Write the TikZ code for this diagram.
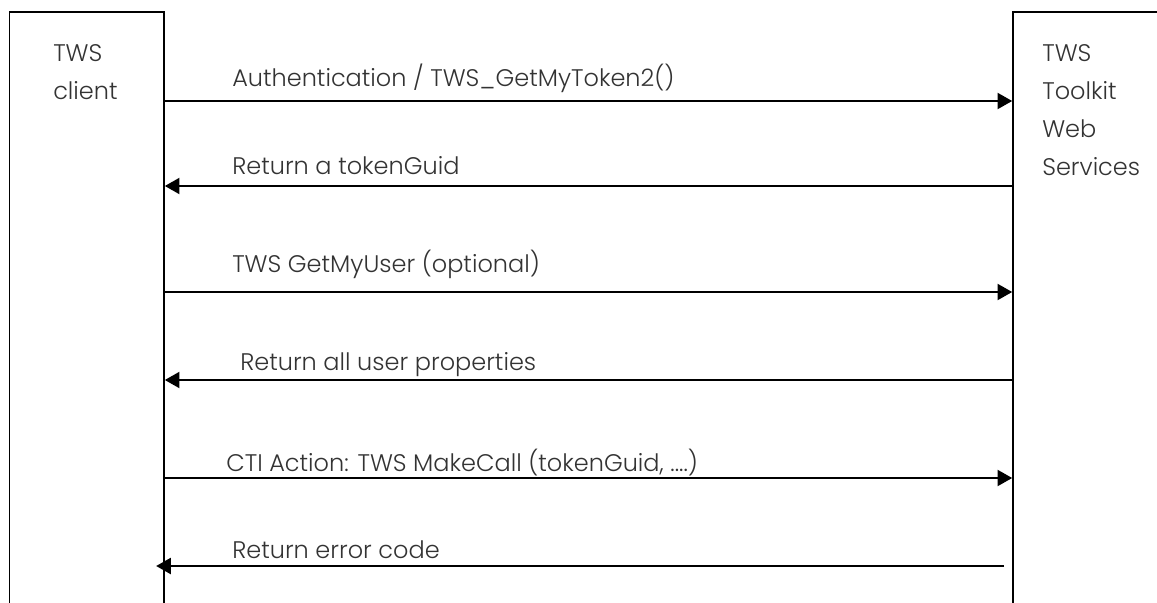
\documentclass[tikz,border=0pt]{standalone}
\usepackage{fontspec}
\setmainfont{Poppins}[UprightFont=* Light]
\usetikzlibrary{arrows.meta}
\usetikzlibrary{positioning}
\definecolor{textgray}{HTML}{333333}

\begin{document}
\begin{tikzpicture}[x=0.75pt,y=-0.75pt]
	\useasboundingbox (0,0) rectangle (1157,603);
	\clip (0,0) rectangle (1157,603);
	\fontsize{18}{28.5}\selectfont

	\begin{scope}[every node/.style={rectangle, draw=black, line width=1.2pt, inner sep=0pt}]
		\node[minimum width=115.9pt, minimum height=471pt] (client) at (86.75,326) {};
		\node[minimum width=117.75pt, minimum height=471pt] (tws) at (1091.5,326) {};
	\end{scope}

	\begin{scope}[every node/.style={anchor=base west, inner sep=0pt, text=textgray, align=left}]
		\node[anchor=north west] (clientlabel) at (53,44) {TWS\\client};
		\node[anchor=north west] (twslabel) at (1042,44) {TWS\\Toolkit\\Web\\Services};

		\node (m1) at (232,86) {Authentication / TWS\textunderscore GetMyToken2()};
		\node (m2) at (232,174) {Return a tokenGuid};
		\node (m3) at (232,272) {TWS GetMyUser (optional)};
		\node (m4) at (240,370) {Return all user properties};
		\node (m5) at (226,471) {CTI Action: TWS MakeCall (tokenGuid, ....)};
		\node (m6) at (232,558) {Return error code};
	\end{scope}

	\coordinate (y1) at (0,101);
	\coordinate (y2) at (0,186);
	\coordinate (y3) at (0,292);
	\coordinate (y4) at (0,380);
	\coordinate (y5) at (0,478);
	\coordinate (y6) at (0,566);

	\begin{scope}[>={Triangle[length=11pt,width=12pt]}, line width=1.6pt]
		\draw[->] (client.east |- y1) -- (tws.west |- y1);
		\draw[->] (tws.west |- y2) -- (client.east |- y2);
		\draw[->] (client.east |- y3) -- (tws.west |- y3);
		\draw[->] (tws.west |- y4) -- (client.east |- y4);
		\draw[->] (client.east |- y5) -- (tws.west |- y5);
		\draw[->, shorten <=6pt, shorten >=-6.5pt] (tws.west |- y6) -- (client.east |- y6);
	\end{scope}
\end{tikzpicture}
\end{document}
